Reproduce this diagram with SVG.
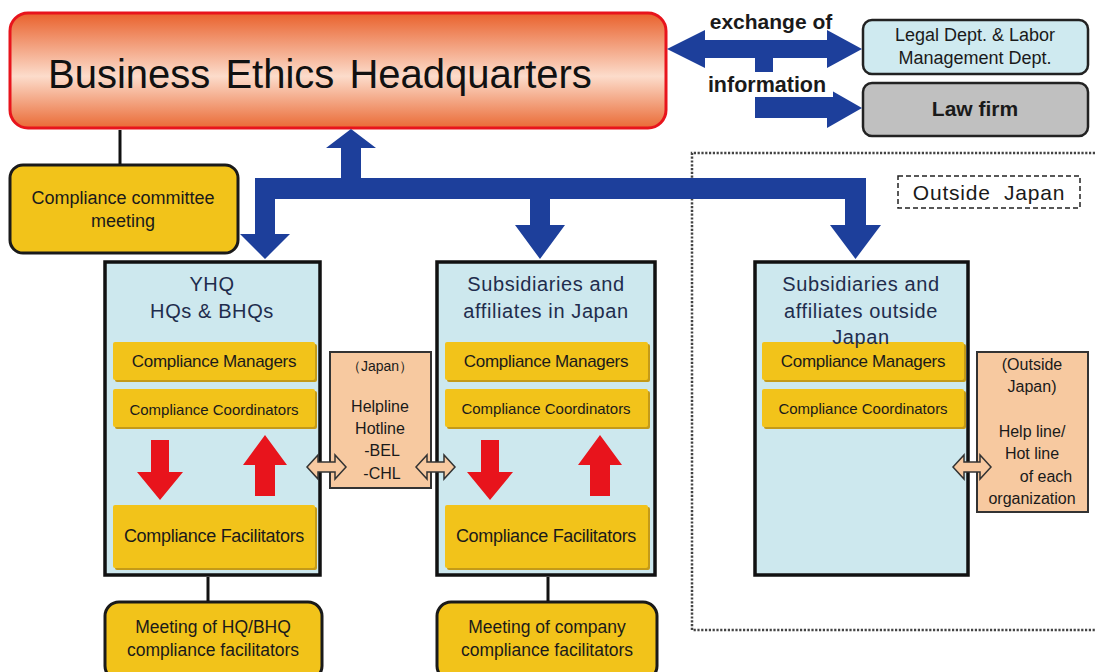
<svg xmlns="http://www.w3.org/2000/svg" width="1095" height="672" viewBox="0 0 1095 672">
<defs>
<linearGradient id="hdr" x1="0" y1="0" x2="0" y2="1">
<stop offset="0" stop-color="#e9612c"/>
<stop offset="0.55" stop-color="#fcdccb"/>
<stop offset="1" stop-color="#ea6a35"/>
</linearGradient>
<style>
text{font-family:"Liberation Sans",Arial,sans-serif;}
.blue{fill:#1d3f9b;}
.red{fill:#e8141c;}
.ybar{fill:#f2c31a;}
.yshadow{fill:#c49a18;}
.ybox{fill:#f2c31a;stroke:#1a1a1a;stroke-width:3;}
.org{fill:#cde8ee;stroke:#111;stroke-width:3.5;}
.help{fill:#f7c9a0;stroke:#333;stroke-width:2;}
.darr{fill:#f7c9a0;stroke:#333;stroke-width:1.5;}
.ln{stroke:#111;stroke-width:3;fill:none;}
.dot{stroke:#444;stroke-width:2.5;stroke-dasharray:2.2 1.6;fill:none;}
.ttl{font-size:20px;fill:#1f2d4d;text-anchor:middle;letter-spacing:0.6px;}
.cm{font-size:17px;fill:#1a1a1a;text-anchor:middle;letter-spacing:-0.3px;}
.cc{font-size:15px;fill:#1a1a1a;text-anchor:middle;}
.cf{font-size:18px;fill:#1a1a1a;text-anchor:middle;letter-spacing:-0.3px;}
.mt{font-size:17.5px;fill:#1a1a1a;text-anchor:middle;}
.hl{font-size:16px;fill:#1a1a1a;text-anchor:middle;}
</style>
</defs>
<rect width="1095" height="672" fill="#ffffff"/>

<!-- dotted outside-Japan region -->
<g id="outside-region">
<path class="dot" d="M1095 153 H692 V630 H1095"/>
<rect x="898" y="176" width="182" height="32" fill="none" stroke="#222" stroke-width="1.5" stroke-dasharray="5 3"/>
<text x="989" y="200" font-size="21" fill="#1a1a1a" text-anchor="middle" letter-spacing="0.8" xml:space="preserve">Outside  Japan</text>
</g>

<g id="headquarters">
<rect x="10" y="13" width="656" height="115" rx="18" fill="url(#hdr)" stroke="#e8141c" stroke-width="3"/>
<text x="48" y="88" font-size="40" fill="#111" word-spacing="4">Business Ethics Headquarters</text>
</g>

<g id="legal-dept">
<rect x="863" y="20" width="225" height="54" rx="9" fill="#cfeaf0" stroke="#222" stroke-width="2.5"/>
<text x="975" y="41" font-size="18" fill="#1a1a1a" text-anchor="middle">Legal Dept. &amp; Labor</text>
<text x="975" y="64" font-size="18" fill="#1a1a1a" text-anchor="middle">Management  Dept.</text>
</g>

<g id="law-firm">
<rect x="863" y="83" width="225" height="53" rx="9" fill="#c0c0c0" stroke="#222" stroke-width="2.5"/>
<text x="975" y="116" font-size="21" font-weight="bold" fill="#1a1a1a" text-anchor="middle">Law firm</text>
</g>

<g id="committee-meeting">
<rect class="ybox" x="10" y="165" width="228" height="88" rx="13"/>
<text x="123" y="204" font-size="18" fill="#1a1a1a" text-anchor="middle">Compliance committee</text>
<text x="123" y="227" font-size="18" fill="#1a1a1a" text-anchor="middle">meeting</text>
</g>

<g id="yhq">
<rect class="org" x="105" y="262" width="215" height="313"/>
<text class="ttl" x="212" y="291">YHQ</text>
<text class="ttl" x="212" y="318">HQs &amp; BHQs</text>
<rect class="yshadow" x="115" y="344" width="202" height="38" rx="2"/>
<rect class="ybar" x="113" y="342" width="202" height="38" rx="2"/>
<text class="cm" x="214" y="367">Compliance Managers</text>
<rect class="yshadow" x="115" y="391" width="202" height="38" rx="2"/>
<rect class="ybar" x="113" y="389" width="202" height="38" rx="2"/>
<text class="cc" x="214" y="415">Compliance  Coordinators</text>
<rect class="yshadow" x="115" y="507" width="202" height="63" rx="2"/>
<rect class="ybar" x="113" y="505" width="202" height="63" rx="2"/>
<text class="cf" x="214" y="542">Compliance Facilitators</text>
</g>

<g id="japan-helpline">
<rect class="help" x="330" y="352" width="101" height="136"/>
<text x="380" y="371" font-size="14" fill="#1a1a1a" text-anchor="middle" font-family="'Liberation Sans','Noto Sans CJK JP',sans-serif">（Japan）</text>
<text class="hl" x="380" y="412">Helpline</text>
<text class="hl" x="380" y="434">Hotline</text>
<text class="hl" x="382" y="456">-BEL</text>
<text class="hl" x="382" y="479">-CHL</text>
</g>

<g id="japan-subsidiaries">
<rect class="org" x="437" y="262" width="218" height="313"/>
<text class="ttl" x="546" y="291">Subsidiaries and</text>
<text class="ttl" x="546" y="318">affiliates in Japan</text>
<rect class="yshadow" x="447" y="344" width="203" height="38" rx="2"/>
<rect class="ybar" x="445" y="342" width="203" height="38" rx="2"/>
<text class="cm" x="546" y="367">Compliance Managers</text>
<rect class="yshadow" x="447" y="391" width="203" height="38" rx="2"/>
<rect class="ybar" x="445" y="389" width="203" height="38" rx="2"/>
<text class="cc" x="546" y="414">Compliance  Coordinators</text>
<rect class="yshadow" x="447" y="507" width="203" height="63" rx="2"/>
<rect class="ybar" x="445" y="505" width="203" height="63" rx="2"/>
<text class="cf" x="546" y="542">Compliance Facilitators</text>
</g>

<g id="overseas-subsidiaries">
<rect class="org" x="755" y="262" width="213" height="313"/>
<rect class="yshadow" x="764" y="344" width="202" height="38" rx="2"/>
<rect class="ybar" x="762" y="342" width="202" height="38" rx="2"/>
<text class="cm" x="863" y="367">Compliance Managers</text>
<rect class="yshadow" x="764" y="391" width="202" height="38" rx="2"/>
<rect class="ybar" x="762" y="389" width="202" height="38" rx="2"/>
<text class="cc" x="863" y="414">Compliance  Coordinators</text>
<text class="ttl" x="861" y="291">Subsidiaries and</text>
<text class="ttl" x="861" y="318">affiliates outside</text>
<text class="ttl" x="861" y="344">Japan</text>
</g>

<g id="outside-helpline">
<rect class="help" x="977" y="352" width="111" height="160"/>
<text class="hl" x="1032" y="370">(Outside</text>
<text class="hl" x="1032" y="392">Japan)</text>
<text class="hl" x="1032" y="437">Help line/</text>
<text class="hl" x="1032" y="459">Hot line</text>
<text class="hl" x="1046" y="482">of each</text>
<text class="hl" x="1032" y="504">organization</text>
</g>

<g id="hq-facilitators-meeting">
<rect class="ybox" x="105" y="602" width="217" height="78" rx="14"/>
<text class="mt" x="213" y="633">Meeting of HQ/BHQ</text>
<text class="mt" x="213" y="656">compliance facilitators</text>
</g>

<g id="company-facilitators-meeting">
<rect class="ybox" x="437" y="602" width="220" height="78" rx="14"/>
<text class="mt" x="547" y="633">Meeting of company</text>
<text class="mt" x="547" y="656">compliance facilitators</text>
</g>

<!-- connectors -->
<g id="connectors">
<line class="ln" x1="120" y1="130" x2="120" y2="164"/>
<line class="ln" x1="208" y1="577" x2="208" y2="601"/>
<line class="ln" x1="548" y1="577" x2="548" y2="601"/>
<!-- blue bus -->
<rect class="blue" x="255" y="178" width="611" height="21"/>
<polygon class="blue" points="341,178 341,148 326,148 351,129 376,148 361,148 361,178"/>
<polygon class="blue" points="255,199 255,234 240,234 265,259 290,234 275,234 275,199"/>
<polygon class="blue" points="530,199 530,225 515,225 540,259 565,225 550,225 550,199"/>
<polygon class="blue" points="845,199 845,225 830,225 855.5,259 881,225 866,225 866,199"/>
<!-- exchange of information arrows -->
<polygon class="blue" points="667,49 705,30 705,40 827,40 827,30 862,49 827,68 827,58 705,58 705,68"/>
<rect class="blue" x="755" y="58" width="18" height="40"/>
<polygon class="blue" points="755,97 827,97 827,88 862,108 827,128 827,118 755,118"/>
<!-- red arrows -->
<polygon class="red" points="151,440 169,440 169,472 183,472 160,500 137,472 151,472"/>
<polygon class="red" points="265,435 287,465 275,465 275,496 255,496 255,465 243,465"/>
<polygon class="red" points="481,440 499,440 499,472 513,472 490,500 467,472 481,472"/>
<polygon class="red" points="600,435 622,465 610,465 610,496 590,496 590,465 578,465"/>
<!-- helpline double arrows -->
<polygon class="darr" points="307,467 318,455 318,462 335,462 335,455 346,467 335,479 335,472 318,472 318,479"/>
<polygon class="darr" points="416,467 427,455 427,462 444,462 444,455 455,467 444,479 444,472 427,472 427,479"/>
<polygon class="darr" points="953,467 964,455 964,462 980,462 980,455 991,467 980,479 980,472 964,472 964,479"/>
<!-- text labels on arrows -->
<text x="771" y="29" font-size="21" font-weight="bold" fill="#1a1a1a" text-anchor="middle">exchange of</text>
<rect x="703" y="72" width="130" height="25" fill="#ffffff"/>
<text x="767" y="92" font-size="21.5" font-weight="bold" fill="#1a1a1a" text-anchor="middle">information</text>
</g>
</svg>
